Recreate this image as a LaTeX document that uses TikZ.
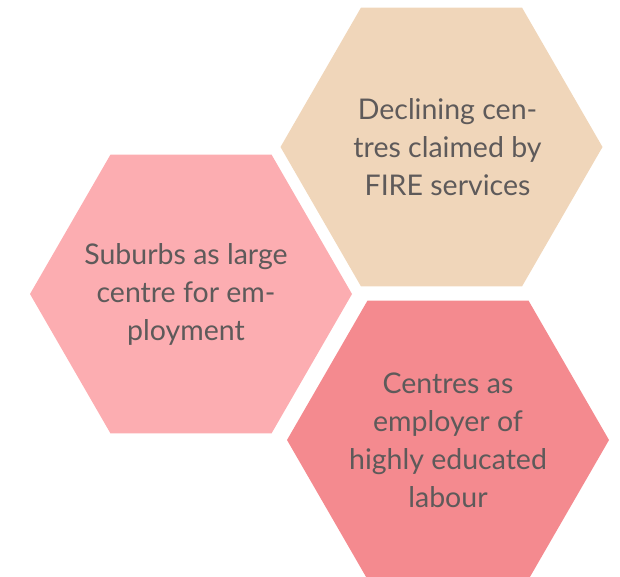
\documentclass[tikz,border=0pt]{standalone}
\usepackage{fontspec}
\setmainfont{Lato}
\usetikzlibrary{shapes.geometric}
\definecolor{hx-sand}{HTML}{F0D6BA}
\definecolor{hx-rose}{HTML}{FCADB1}
\definecolor{hx-coral}{HTML}{F48A8F}
\definecolor{hx-text}{HTML}{5E5A5A}

\begin{document}
\begin{tikzpicture}[x=1pt,y=-1pt,
    hexa/.style={regular polygon,regular polygon sides=6,minimum size=322pt,inner sep=0pt},
    hexlabel/.style={text=hx-text,align=center,font=\fontsize{28.5}{38}\selectfont}]
      \useasboundingbox (0,0) rectangle (620,576);
      \node[hexa,fill=hx-sand] (fire) at (441.5,147) {};
      \node[hexa,fill=hx-rose] (suburbs) at (191,294) {};
      \node[hexa,fill=hx-coral] (centres) at (448,440) {};
      \node[hexlabel,xshift=6pt] (fire-text) at (fire) {Declining cen-\\tres claimed by\\FIRE services};
      \node[hexlabel,xshift=-5pt] (suburbs-text) at (suburbs) {Suburbs as large\\centre for em-\\ployment};
      \node[hexlabel] (centres-text) at (centres) {Centres as\\employer of\\highly educated\\labour};
    \end{tikzpicture}
\end{document}
